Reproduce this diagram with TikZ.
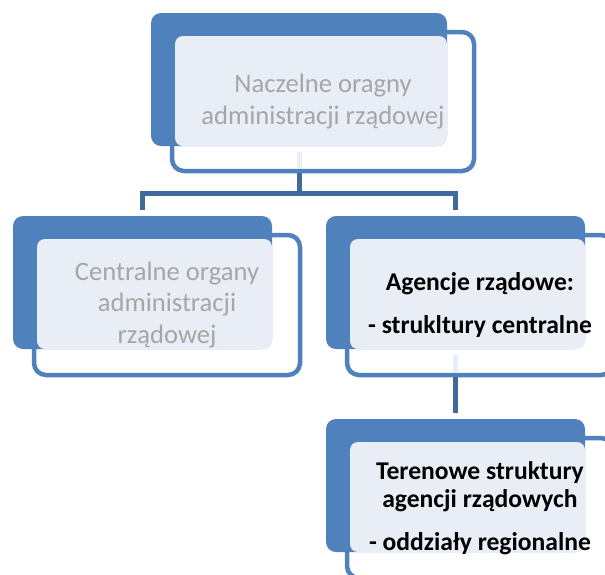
\documentclass[tikz,border=0pt]{standalone}
\usepackage{fontspec}
\setmainfont{Carlito}
\usetikzlibrary{calc}
\definecolor{darkbox}{HTML}{4F81BD}
\definecolor{lightbox}{HTML}{E9EEF6}
\definecolor{linkblue}{HTML}{41699B}
\definecolor{greytext}{HTML}{A6A6A6}
\begin{document}
\begin{tikzpicture}[
    x=1pt, y=-1pt,
    framebox/.style={draw=darkbox, line width=4.5pt, fill=white, rounded corners=12pt, inner sep=0pt, minimum width=266, minimum height=140},
    backbox/.style={fill=darkbox, rounded corners=10pt, inner sep=0pt, minimum width=259, minimum height=133},
    textbox/.style={fill=lightbox, rounded corners=8pt, inner sep=0pt, minimum width=235, minimum height=110},
    link/.style={draw=linkblue, line width=5pt},
    stub/.style={draw=lightbox, line width=5pt},
    plain/.style={align=center, text=greytext, font=\fontsize{26.6}{31.5}\selectfont},
    strong/.style={align=center, text=black, font=\bfseries\fontsize{25.6}{28.5}\selectfont},
]
    \useasboundingbox (0,0) rectangle (605,574);
    \clip (0,0) rectangle (605,574);

    \node[framebox, minimum width=302, minimum height=139] (topF) at (323,101.5) {};
    \node[backbox, minimum width=296] (topB) at (299,79.5) {};
    \node[textbox, minimum width=272] (topL) at (311,91) {};

    \node[framebox] (leftF) at (167,305) {};
    \node[backbox] (leftB) at (142.5,282.5) {};
    \node[textbox] (leftL) at (154.5,294) {};

    \node[framebox] (rightF) at (480,305) {};
    \node[backbox] (rightB) at (455.5,282.5) {};
    \node[textbox] (rightL) at (467.5,294) {};

    \node[framebox] (lowF) at (480,508) {};
    \node[backbox] (lowB) at (455.5,485.5) {};
    \node[textbox] (lowL) at (467.5,497) {};

    \draw[stub] ($(topB.south)+(0,6)$) -- ($(topB.south |- topF.south)+(0,-4.5)$);
    \draw[stub] ($(rightB.south)+(0,6)$) -- ($(rightB.south |- rightF.south)+(0,-4.5)$);

    \coordinate (fork) at ($(topB.south |- topF.south)+(0,20)$);
    \draw[link] (topB.south |- topF.south) -- (fork) -| ($(leftB.north)+(0,-6)$);
    \draw[link] (fork) -| ($(rightB.north)+(0,-6)$);
    \draw[link] (rightB.south |- rightF.south) -- ($(lowB.north)+(0,-6)$);

    \node[plain] (top) at (topF.center) {Naczelne oragny\\administracji rządowej};
    \node[plain] (left) at (leftF.center) {Centralne organy\\administracji\\rządowej};
    \node[strong] (right) at (rightF.center) {Agencje rządowe:\\[15pt]- strukltury centralne};
    \node[strong] (low) at (lowF.center) {Terenowe struktury\\agencji rządowych\\[14pt]- oddziały regionalne};
\end{tikzpicture}
\end{document}
